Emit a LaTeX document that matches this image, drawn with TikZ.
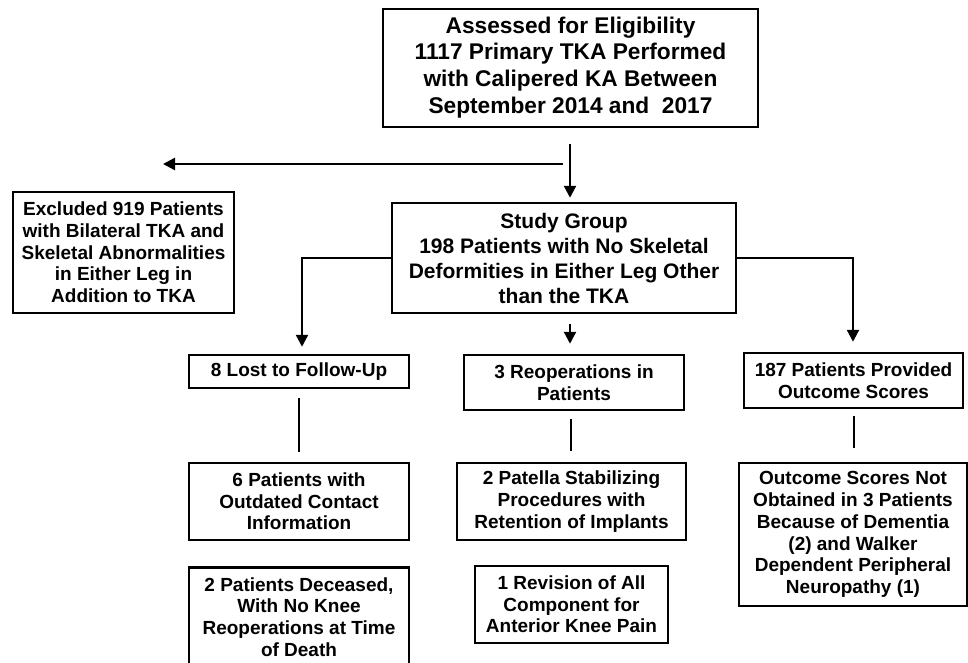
\documentclass[tikz,border=0pt]{standalone}
\usepackage{fontspec}
\setmainfont{Liberation Sans}
\usetikzlibrary{arrows.meta,calc}
\begin{document}
\begin{tikzpicture}[x=1pt,y=-1pt,
  box/.style={draw, line width=2.5pt, inner sep=0pt, align=center,
    font=\bfseries\fontsize{19}{21.7}\selectfont},
  arr/.style={line width=2.4pt, -{Triangle[length=12pt,width=12pt]}},
  link/.style={line width=1.2pt}]
\useasboundingbox (0,0) rectangle (968,663);
\clip (0,0) rectangle (968,663);

\node[box, font=\bfseries\fontsize{22.7}{26.7}\selectfont, minimum width=375pt, minimum height=118pt] (top) at (570.5,68)
  {\raisebox{-3pt}{\begin{tabular}{@{}c@{}}Assessed for Eligibility\\1117 Primary TKA Performed\\with Calipered KA Between\\September 2014 and\ \ 2017\end{tabular}}};
\node[box, minimum width=221pt, minimum height=121pt] (excl) at (123.5,252.5)
  {Excluded 919 Patients\\with Bilateral TKA and\\Skeletal Abnormalities\\in Either Leg in\\Addition to TKA};
\node[box, font=\bfseries\fontsize{21}{25}\selectfont, minimum width=344pt, minimum height=110pt] (study) at (564,258)
  {Study Group\\198 Patients with No Skeletal\\Deformities in Either Leg Other\\than the TKA};
\node[box, minimum width=220pt, minimum height=33pt] (lost) at (299,371.5) {8 Lost to Follow-Up};
\node[box, minimum width=220pt, minimum height=55pt] (reop) at (574,382.5) {3 Reoperations in\\Patients};
\node[box, minimum width=219pt, minimum height=55pt] (prov) at (853.5,380.5) {187 Patients Provided\\Outcome Scores};
\node[box, minimum width=220pt, minimum height=77pt] (six) at (299,501.5) {6 Patients with\\Outdated Contact\\Information};
\node[box, minimum width=229pt, minimum height=77pt] (patella) at (571.5,501.5) {2 Patella Stabilizing\\Procedures with\\Retention of Implants};
\node[box, minimum width=193pt, minimum height=77pt] (revision) at (571.5,604.5) {1 Revision of All\\Component for\\Anterior Knee Pain};
\node[box, minimum width=228pt, minimum height=143pt] (outcome) at (853,534.5)
  {Outcome Scores Not\\Obtained in 3 Patients\\Because of Dementia\\(2) and Walker\\Dependent Peripheral\\Neuropathy (1)};
\node[box, minimum width=220pt, minimum height=104pt, anchor=north] (dec) at (299,566)
  {\raisebox{8pt}{\begin{tabular}{@{}c@{}}2 Patients Deceased,\\With No Knee\\Reoperations at Time\\of Death\end{tabular}}};

\coordinate (hs) at (563,164);
\coordinate (he) at (163,164);
\draw[arr] (hs) -- (he);
\draw[arr] ($(top.south)+(-0.5,16)$) -- ($(study.north)+(6,-4)$);
\draw[arr] (study.west) -| ($(lost.north)+(3,-7)$);
\draw[arr] (study.east) -| ($(prov.north)+(-0.5,-10)$);
\draw[arr] ($(study.south)+(6,10)$) -- ($(reop.north)+(-4,-10)$);
\draw[link] ($(lost.south)+(0,9)$) -- ($(six.north)+(0,-10)$);
\draw[link] ($(reop.south)+(-3,8)$) -- ($(patella.north)+(-0.5,-11)$);
\draw[link] ($(prov.south)+(0.5,7)$) -- ($(outcome.north)+(1,-14)$);
\end{tikzpicture}
\end{document}
